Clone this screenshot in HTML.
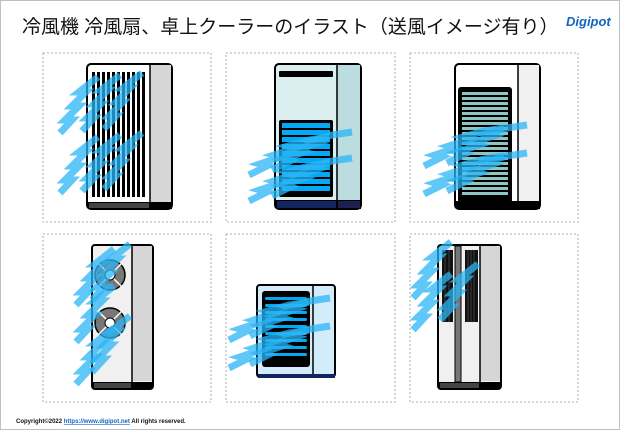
<!DOCTYPE html>
<html><head><meta charset="utf-8"><style>
body{margin:0;background:#fff}
svg{display:block}
</style></head><body>
<svg width="620" height="430" viewBox="0 0 620 430" xmlns="http://www.w3.org/2000/svg" font-family="Liberation Sans, Noto Sans CJK JP, sans-serif">
<defs>
<polyline id="ws" points="0,0 12,-13 5,-13 19,-27 12,-27 26,-41 19,-41 38,-56" fill="none" stroke="#29b6f6" stroke-width="7" stroke-opacity="0.75" stroke-linejoin="miter"/>
<polyline id="wh" points="0,0 18,-9 11,-11 32,-18 25,-20 46,-27 39,-29 60,-35 80,-38" fill="none" stroke="#29b6f6" stroke-width="7" stroke-opacity="0.75" stroke-linejoin="miter"/>
</defs>
<rect x="0.5" y="0.5" width="619" height="429" fill="#fff" stroke="#c0c0c0"/>
<text x="22" y="33" font-size="19" fill="#111">冷風機 冷風扇、卓上クーラーのイラスト（送風イメージ有り）</text>
<text x="566" y="26" font-size="13" font-weight="bold" fill="#1565c0" font-style="italic">Digipot</text>
<text x="16" y="423" font-size="6" font-weight="bold" fill="#111">Copyright©2022 <tspan fill="#1565c0" text-decoration="underline">https://www.digipot.net</tspan> All rights reserved.</text>
<g fill="none" stroke="#999" stroke-dasharray="2,2" stroke-width="0.8">
<rect x="43" y="53" width="168" height="169"/><rect x="226" y="53" width="169" height="169"/><rect x="410" y="53" width="168" height="169"/>
<rect x="43" y="234" width="168" height="168"/><rect x="226" y="234" width="169" height="168"/><rect x="410" y="234" width="168" height="168"/>
</g>
<!-- P1 -->
<rect x="87" y="64" width="85" height="145" rx="4" fill="#fff" stroke="#000" stroke-width="2"/>
<rect x="150" y="65" width="21" height="137" fill="#d6d6d6"/>
<line x1="150" y1="64" x2="150" y2="202" stroke="#000" stroke-width="1.5"/>
<rect x="88" y="202" width="84" height="7" fill="#000"/><rect x="89" y="203" width="60" height="5" fill="#444"/>
<g fill="#000"><rect x="92" y="72" width="3" height="125"/><rect x="97" y="72" width="3" height="125"/><rect x="102" y="72" width="3" height="125"/><rect x="107" y="72" width="3" height="125"/><rect x="112" y="72" width="3" height="125"/><rect x="117" y="72" width="3" height="125"/><rect x="122" y="72" width="3" height="125"/><rect x="127" y="72" width="3" height="125"/><rect x="132" y="72" width="3" height="125"/><rect x="137" y="72" width="3" height="125"/><rect x="142" y="72" width="3" height="125"/></g>
<use href="#ws" x="60" y="133"/><use href="#ws" x="82" y="131"/><use href="#ws" x="104" y="129"/>
<use href="#ws" x="60" y="193"/><use href="#ws" x="82" y="191"/><use href="#ws" x="104" y="189"/>
<!-- P2 -->
<rect x="275" y="64" width="86" height="145" rx="4" fill="#dbeff1" stroke="#000" stroke-width="2"/>
<rect x="337" y="65" width="23" height="135" fill="#bcdde0"/>
<line x1="337" y1="64" x2="337" y2="200" stroke="#000" stroke-width="1.5"/>
<rect x="276" y="200" width="85" height="9" fill="#000"/><rect x="277" y="201" width="59" height="7" fill="#12255e"/><rect x="338" y="201" width="22" height="7" fill="#1e1f50"/>
<rect x="279" y="71" width="54" height="6" rx="1" fill="#000"/>
<rect x="279" y="120" width="54" height="77" rx="2" fill="#000"/>
<g fill="#03a9f4"><rect x="282" y="123" width="48" height="5"/><rect x="282" y="130" width="48" height="5"/><rect x="282" y="137" width="48" height="5"/><rect x="282" y="144" width="48" height="5"/><rect x="282" y="151" width="48" height="5"/><rect x="282" y="158" width="48" height="5"/><rect x="282" y="165" width="48" height="5"/><rect x="282" y="172" width="48" height="5"/><rect x="282" y="179" width="48" height="5"/><rect x="282" y="186" width="48" height="5"/></g>
<use href="#wh" x="249" y="175"/><use href="#wh" x="272" y="170"/><use href="#wh" x="249" y="201"/><use href="#wh" x="272" y="196"/>
<!-- P3 -->
<rect x="455" y="64" width="85" height="145" rx="4" fill="#fff" stroke="#000" stroke-width="2"/>
<rect x="518" y="65" width="21" height="136" fill="#f0f0f0"/>
<line x1="518" y1="64" x2="518" y2="201" stroke="#000" stroke-width="1.5"/>
<rect x="456" y="201" width="84" height="8" fill="#000"/>
<rect x="458" y="87" width="54" height="116" rx="3" fill="#000"/>
<g fill="#8fc5c2"><rect x="462" y="92" width="46" height="3"/><rect x="462" y="97" width="46" height="3"/><rect x="462" y="102" width="46" height="3"/><rect x="462" y="107" width="46" height="3"/><rect x="462" y="112" width="46" height="3"/><rect x="462" y="117" width="46" height="3"/><rect x="462" y="122" width="46" height="3"/><rect x="462" y="127" width="46" height="3"/><rect x="462" y="132" width="46" height="3"/><rect x="462" y="137" width="46" height="3"/><rect x="462" y="142" width="46" height="3"/><rect x="462" y="147" width="46" height="3"/><rect x="462" y="152" width="46" height="3"/><rect x="462" y="157" width="46" height="3"/><rect x="462" y="162" width="46" height="3"/><rect x="462" y="167" width="46" height="3"/><rect x="462" y="172" width="46" height="3"/><rect x="462" y="177" width="46" height="3"/><rect x="462" y="182" width="46" height="3"/><rect x="462" y="187" width="46" height="3"/><rect x="462" y="192" width="46" height="3"/></g>
<use href="#wh" x="424" y="166"/><use href="#wh" x="447" y="163"/><use href="#wh" x="424" y="194"/><use href="#wh" x="447" y="191"/>
<!-- P4 -->
<rect x="92" y="245" width="61" height="144" rx="3" fill="#f0f0f0" stroke="#000" stroke-width="2"/>
<rect x="132" y="246" width="20" height="135" fill="#d6d6d6"/>
<line x1="132" y1="245" x2="132" y2="382" stroke="#000" stroke-width="1.5"/>
<rect x="93" y="382" width="60" height="7" fill="#000"/><rect x="94" y="383" width="37" height="5" fill="#444"/>
<g stroke="#000" stroke-width="1.5"><circle cx="110" cy="275" r="15" fill="#777"/><circle cx="110" cy="323" r="15" fill="#777"/></g>
<g stroke="#fff" stroke-width="1.5"><line x1="98" y1="263" x2="122" y2="287"/><line x1="98" y1="287" x2="122" y2="263"/><line x1="98" y1="311" x2="122" y2="335"/><line x1="98" y1="335" x2="122" y2="311"/></g>
<circle cx="110" cy="275" r="5" fill="#fff" stroke="#000"/><circle cx="110" cy="323" r="5" fill="#fff" stroke="#000"/>
<use href="#ws" x="76" y="305"/><use href="#ws" x="76" y="342"/><use href="#ws" x="76" y="384"/><use href="#ws" x="92" y="372"/><use href="#ws" x="92" y="300"/>
<!-- P5 -->
<rect x="257" y="285" width="78" height="92" rx="3" fill="#d3ecfb" stroke="#000" stroke-width="2"/>
<line x1="313" y1="285" x2="313" y2="374" stroke="#000" stroke-width="1.5"/>
<rect x="258" y="374" width="77" height="4" fill="#12255e"/>
<rect x="262" y="291" width="48" height="76" rx="3" fill="#000"/>
<g fill="#03a9f4"><rect x="265" y="297" width="42" height="3" rx="1.5"/><rect x="265" y="304" width="42" height="3" rx="1.5"/><rect x="265" y="311" width="42" height="3" rx="1.5"/><rect x="265" y="318" width="42" height="3" rx="1.5"/><rect x="265" y="325" width="42" height="3" rx="1.5"/><rect x="265" y="332" width="42" height="3" rx="1.5"/><rect x="265" y="339" width="42" height="3" rx="1.5"/><rect x="265" y="346" width="42" height="3" rx="1.5"/><rect x="265" y="353" width="42" height="3" rx="1.5"/></g>
<use href="#wh" x="229" y="340"/><use href="#wh" x="250" y="336"/><use href="#wh" x="229" y="368"/><use href="#wh" x="250" y="364"/>
<!-- P6 -->
<rect x="438" y="245" width="63" height="144" rx="3" fill="#f0f0f0" stroke="#000" stroke-width="2"/>
<rect x="480" y="246" width="20" height="135" fill="#d6d6d6"/>
<line x1="480" y1="245" x2="480" y2="382" stroke="#000" stroke-width="1.5"/>
<rect x="455" y="246" width="6" height="136" fill="#777" stroke="#000"/>
<rect x="439" y="382" width="62" height="7" fill="#000"/><rect x="440" y="383" width="39" height="5" fill="#444"/>
<rect x="442" y="250" width="11" height="72" fill="#111"/><rect x="465" y="250" width="13" height="72" fill="#111"/>
<g stroke="#555" stroke-width="0.7"><line x1="445" y1="250" x2="445" y2="322"/><line x1="449" y1="250" x2="449" y2="322"/><line x1="468" y1="250" x2="468" y2="322"/><line x1="471" y1="250" x2="471" y2="322"/><line x1="474" y1="250" x2="474" y2="322"/></g>
<use href="#ws" x="413" y="298"/><use href="#ws" x="413" y="330"/><use href="#ws" x="440" y="320"/>
</svg>
</body></html>
